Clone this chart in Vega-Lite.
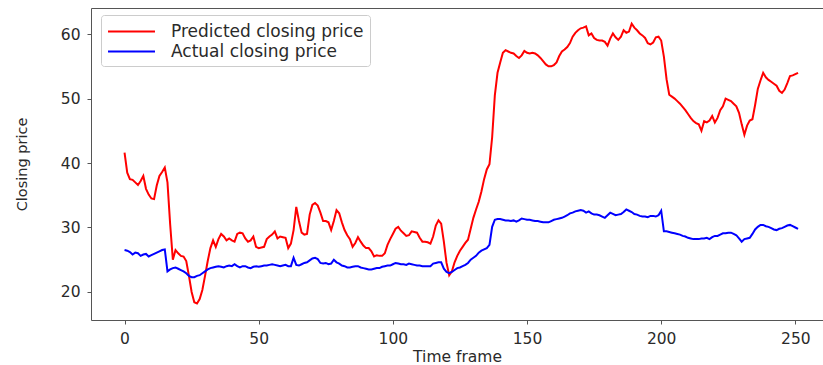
{
  "$schema": "https://vega.github.io/schema/vega-lite/v6.json",
  "width": 732,
  "height": 312,
  "autosize": {"type": "none"},
  "padding": {"left": 91, "top": 8, "right": 0, "bottom": 45},
  "background": "white",
  "data": {
    "values": [
      {"t":0,"Predicted":41.6,"Actual":26.5},{"t":1,"Predicted":38.5,"Actual":26.4},{"t":2,"Predicted":37.5,"Actual":26.2},{"t":3,"Predicted":37.4,"Actual":25.8},{"t":4,"Predicted":37.0,"Actual":26.1},
      {"t":5,"Predicted":36.6,"Actual":26.0},{"t":6,"Predicted":37.2,"Actual":25.6},{"t":7,"Predicted":38.0,"Actual":25.8},{"t":8,"Predicted":36.0,"Actual":25.9},{"t":9,"Predicted":35.1,"Actual":25.5},
      {"t":10,"Predicted":34.5,"Actual":25.7},{"t":11,"Predicted":34.4,"Actual":25.9},{"t":12,"Predicted":36.5,"Actual":26.1},{"t":13,"Predicted":38.0,"Actual":26.3},{"t":14,"Predicted":38.6,"Actual":26.5},
      {"t":15,"Predicted":39.3,"Actual":26.6},{"t":16,"Predicted":37.0,"Actual":23.2},{"t":17,"Predicted":30.5,"Actual":23.5},{"t":18,"Predicted":25.0,"Actual":23.7},{"t":19,"Predicted":26.5,"Actual":23.8},
      {"t":20,"Predicted":26.0,"Actual":23.6},{"t":21,"Predicted":25.6,"Actual":23.4},{"t":22,"Predicted":25.5,"Actual":23.2},{"t":23,"Predicted":24.8,"Actual":22.9},{"t":24,"Predicted":22.5,"Actual":22.5},
      {"t":25,"Predicted":20.0,"Actual":22.3},{"t":26,"Predicted":18.4,"Actual":22.3},{"t":27,"Predicted":18.2,"Actual":22.5},{"t":28,"Predicted":18.9,"Actual":22.6},{"t":29,"Predicted":20.3,"Actual":22.9},
      {"t":30,"Predicted":22.5,"Actual":23.2},{"t":31,"Predicted":24.8,"Actual":23.5},{"t":32,"Predicted":26.8,"Actual":23.7},{"t":33,"Predicted":28.0,"Actual":23.8},{"t":34,"Predicted":27.0,"Actual":23.9},
      {"t":35,"Predicted":28.2,"Actual":24.0},{"t":36,"Predicted":29.0,"Actual":23.9},{"t":37,"Predicted":28.6,"Actual":23.8},{"t":38,"Predicted":28.0,"Actual":24.0},{"t":39,"Predicted":28.3,"Actual":24.1},
      {"t":40,"Predicted":28.0,"Actual":24.0},{"t":41,"Predicted":27.8,"Actual":24.3},{"t":42,"Predicted":29.0,"Actual":24.0},{"t":43,"Predicted":29.2,"Actual":23.8},{"t":44,"Predicted":29.1,"Actual":24.0},
      {"t":45,"Predicted":28.3,"Actual":24.0},{"t":46,"Predicted":27.8,"Actual":23.8},{"t":47,"Predicted":28.0,"Actual":23.7},{"t":48,"Predicted":28.6,"Actual":23.9},{"t":49,"Predicted":27.0,"Actual":24.0},
      {"t":50,"Predicted":26.8,"Actual":23.9},{"t":51,"Predicted":26.9,"Actual":24.0},{"t":52,"Predicted":27.0,"Actual":24.1},{"t":53,"Predicted":28.2,"Actual":24.1},{"t":54,"Predicted":28.6,"Actual":24.2},
      {"t":55,"Predicted":28.9,"Actual":24.3},{"t":56,"Predicted":29.4,"Actual":24.2},{"t":57,"Predicted":28.3,"Actual":24.1},{"t":58,"Predicted":28.6,"Actual":24.0},{"t":59,"Predicted":28.5,"Actual":24.1},
      {"t":60,"Predicted":28.4,"Actual":24.2},{"t":61,"Predicted":26.8,"Actual":24.0},{"t":62,"Predicted":27.5,"Actual":24.0},{"t":63,"Predicted":29.6,"Actual":25.3},{"t":64,"Predicted":33.2,"Actual":24.2},
      {"t":65,"Predicted":31.0,"Actual":24.1},{"t":66,"Predicted":29.2,"Actual":24.3},{"t":67,"Predicted":28.9,"Actual":24.5},{"t":68,"Predicted":29.0,"Actual":24.6},{"t":69,"Predicted":32.0,"Actual":24.9},
      {"t":70,"Predicted":33.5,"Actual":25.2},{"t":71,"Predicted":33.8,"Actual":25.3},{"t":72,"Predicted":33.4,"Actual":25.1},{"t":73,"Predicted":32.3,"Actual":24.5},{"t":74,"Predicted":31.0,"Actual":24.4},
      {"t":75,"Predicted":31.0,"Actual":24.5},{"t":76,"Predicted":30.8,"Actual":24.3},{"t":77,"Predicted":29.6,"Actual":24.4},{"t":78,"Predicted":31.0,"Actual":25.0},{"t":79,"Predicted":32.7,"Actual":24.6},
      {"t":80,"Predicted":32.2,"Actual":24.4},{"t":81,"Predicted":30.8,"Actual":24.1},{"t":82,"Predicted":29.6,"Actual":24.0},{"t":83,"Predicted":28.8,"Actual":23.8},{"t":84,"Predicted":28.2,"Actual":23.8},
      {"t":85,"Predicted":27.0,"Actual":23.9},{"t":86,"Predicted":27.6,"Actual":24.0},{"t":87,"Predicted":28.5,"Actual":24.0},{"t":88,"Predicted":27.8,"Actual":23.8},{"t":89,"Predicted":27.2,"Actual":23.7},
      {"t":90,"Predicted":26.8,"Actual":23.6},{"t":91,"Predicted":26.8,"Actual":23.5},{"t":92,"Predicted":26.3,"Actual":23.5},{"t":93,"Predicted":25.5,"Actual":23.6},{"t":94,"Predicted":25.7,"Actual":23.7},
      {"t":95,"Predicted":25.6,"Actual":23.7},{"t":96,"Predicted":25.6,"Actual":23.9},{"t":97,"Predicted":26.0,"Actual":24.0},{"t":98,"Predicted":27.3,"Actual":24.1},{"t":99,"Predicted":28.2,"Actual":24.1},
      {"t":100,"Predicted":29.0,"Actual":24.3},{"t":101,"Predicted":29.8,"Actual":24.5},{"t":102,"Predicted":30.1,"Actual":24.4},{"t":103,"Predicted":29.5,"Actual":24.3},{"t":104,"Predicted":29.1,"Actual":24.3},
      {"t":105,"Predicted":28.7,"Actual":24.2},{"t":106,"Predicted":28.8,"Actual":24.4},{"t":107,"Predicted":29.4,"Actual":24.3},{"t":108,"Predicted":29.3,"Actual":24.2},{"t":109,"Predicted":29.2,"Actual":24.1},
      {"t":110,"Predicted":28.4,"Actual":24.1},{"t":111,"Predicted":27.8,"Actual":24.0},{"t":112,"Predicted":27.8,"Actual":24.0},{"t":113,"Predicted":27.7,"Actual":24.0},{"t":114,"Predicted":27.5,"Actual":24.0},
      {"t":115,"Predicted":28.6,"Actual":24.4},{"t":116,"Predicted":30.3,"Actual":24.5},{"t":117,"Predicted":31.1,"Actual":24.6},{"t":118,"Predicted":30.6,"Actual":24.6},{"t":119,"Predicted":27.8,"Actual":23.6},
      {"t":120,"Predicted":24.5,"Actual":23.1},{"t":121,"Predicted":22.6,"Actual":22.9},{"t":122,"Predicted":23.2,"Actual":23.1},{"t":123,"Predicted":24.6,"Actual":23.4},{"t":124,"Predicted":25.6,"Actual":23.7},
      {"t":125,"Predicted":26.4,"Actual":23.8},{"t":126,"Predicted":27.0,"Actual":24.0},{"t":127,"Predicted":27.6,"Actual":24.2},{"t":128,"Predicted":28.1,"Actual":24.5},{"t":129,"Predicted":29.8,"Actual":25.0},
      {"t":130,"Predicted":31.5,"Actual":25.3},{"t":131,"Predicted":32.8,"Actual":25.6},{"t":132,"Predicted":34.0,"Actual":26.1},{"t":133,"Predicted":35.6,"Actual":26.4},{"t":134,"Predicted":37.5,"Actual":26.6},
      {"t":135,"Predicted":39.0,"Actual":26.8},{"t":136,"Predicted":39.8,"Actual":27.3},{"t":137,"Predicted":44.0,"Actual":30.1},{"t":138,"Predicted":50.5,"Actual":31.2},{"t":139,"Predicted":54.0,"Actual":31.3},
      {"t":140,"Predicted":55.6,"Actual":31.3},{"t":141,"Predicted":57.1,"Actual":31.2},{"t":142,"Predicted":57.5,"Actual":31.1},{"t":143,"Predicted":57.3,"Actual":31.1},{"t":144,"Predicted":57.1,"Actual":31.0},
      {"t":145,"Predicted":57.0,"Actual":31.1},{"t":146,"Predicted":56.6,"Actual":30.9},{"t":147,"Predicted":56.3,"Actual":31.1},{"t":148,"Predicted":56.7,"Actual":31.4},{"t":149,"Predicted":57.4,"Actual":31.3},
      {"t":150,"Predicted":57.1,"Actual":31.2},{"t":151,"Predicted":57.0,"Actual":31.2},{"t":152,"Predicted":57.1,"Actual":31.1},{"t":153,"Predicted":57.0,"Actual":31.0},{"t":154,"Predicted":56.7,"Actual":31.0},
      {"t":155,"Predicted":56.3,"Actual":30.9},{"t":156,"Predicted":55.8,"Actual":30.8},{"t":157,"Predicted":55.3,"Actual":30.8},{"t":158,"Predicted":55.0,"Actual":30.8},{"t":159,"Predicted":55.0,"Actual":31.0},
      {"t":160,"Predicted":55.2,"Actual":31.2},{"t":161,"Predicted":55.6,"Actual":31.3},{"t":162,"Predicted":56.6,"Actual":31.4},{"t":163,"Predicted":57.3,"Actual":31.5},{"t":164,"Predicted":57.6,"Actual":31.7},
      {"t":165,"Predicted":58.0,"Actual":31.9},{"t":166,"Predicted":58.6,"Actual":32.2},{"t":167,"Predicted":59.6,"Actual":32.3},{"t":168,"Predicted":60.2,"Actual":32.5},{"t":169,"Predicted":60.6,"Actual":32.6},
      {"t":170,"Predicted":60.9,"Actual":32.7},{"t":171,"Predicted":61.0,"Actual":32.6},{"t":172,"Predicted":61.2,"Actual":32.3},{"t":173,"Predicted":59.8,"Actual":32.5},{"t":174,"Predicted":60.1,"Actual":32.2},
      {"t":175,"Predicted":59.4,"Actual":32.0},{"t":176,"Predicted":59.1,"Actual":32.0},{"t":177,"Predicted":59.0,"Actual":31.9},{"t":178,"Predicted":59.0,"Actual":31.7},{"t":179,"Predicted":58.8,"Actual":31.5},
      {"t":180,"Predicted":58.2,"Actual":31.9},{"t":181,"Predicted":59.3,"Actual":32.3},{"t":182,"Predicted":60.1,"Actual":32.1},{"t":183,"Predicted":59.5,"Actual":31.9},{"t":184,"Predicted":59.1,"Actual":32.0},
      {"t":185,"Predicted":59.6,"Actual":32.1},{"t":186,"Predicted":60.6,"Actual":32.4},{"t":187,"Predicted":60.2,"Actual":32.8},{"t":188,"Predicted":60.4,"Actual":32.6},{"t":189,"Predicted":61.6,"Actual":32.4},
      {"t":190,"Predicted":61.0,"Actual":32.1},{"t":191,"Predicted":60.6,"Actual":32.0},{"t":192,"Predicted":60.1,"Actual":31.8},{"t":193,"Predicted":59.8,"Actual":31.7},{"t":194,"Predicted":59.4,"Actual":31.7},
      {"t":195,"Predicted":58.6,"Actual":31.6},{"t":196,"Predicted":58.4,"Actual":31.8},{"t":197,"Predicted":58.7,"Actual":31.8},{"t":198,"Predicted":59.5,"Actual":31.7},{"t":199,"Predicted":59.6,"Actual":31.9},
      {"t":200,"Predicted":59.0,"Actual":32.6},{"t":201,"Predicted":56.5,"Actual":29.4},{"t":202,"Predicted":53.0,"Actual":29.4},{"t":203,"Predicted":50.6,"Actual":29.3},{"t":204,"Predicted":50.3,"Actual":29.2},
      {"t":205,"Predicted":50.0,"Actual":29.1},{"t":206,"Predicted":49.6,"Actual":29.0},{"t":207,"Predicted":49.2,"Actual":28.9},{"t":208,"Predicted":48.7,"Actual":28.7},{"t":209,"Predicted":48.2,"Actual":28.6},
      {"t":210,"Predicted":47.6,"Actual":28.4},{"t":211,"Predicted":47.0,"Actual":28.3},{"t":212,"Predicted":46.5,"Actual":28.2},{"t":213,"Predicted":46.2,"Actual":28.2},{"t":214,"Predicted":46.0,"Actual":28.2},
      {"t":215,"Predicted":45.0,"Actual":28.3},{"t":216,"Predicted":46.5,"Actual":28.3},{"t":217,"Predicted":46.3,"Actual":28.4},{"t":218,"Predicted":46.6,"Actual":28.2},{"t":219,"Predicted":47.3,"Actual":28.5},
      {"t":220,"Predicted":46.3,"Actual":28.7},{"t":221,"Predicted":47.0,"Actual":28.7},{"t":222,"Predicted":48.2,"Actual":28.9},{"t":223,"Predicted":48.8,"Actual":29.1},{"t":224,"Predicted":50.0,"Actual":29.1},
      {"t":225,"Predicted":49.8,"Actual":29.2},{"t":226,"Predicted":49.6,"Actual":29.2},{"t":227,"Predicted":49.2,"Actual":29.0},{"t":228,"Predicted":48.8,"Actual":28.8},{"t":229,"Predicted":47.8,"Actual":28.3},
      {"t":230,"Predicted":46.0,"Actual":27.8},{"t":231,"Predicted":44.4,"Actual":28.2},{"t":232,"Predicted":45.8,"Actual":28.3},{"t":233,"Predicted":46.6,"Actual":28.4},{"t":234,"Predicted":46.8,"Actual":29.0},
      {"t":235,"Predicted":49.0,"Actual":29.7},{"t":236,"Predicted":51.5,"Actual":30.1},{"t":237,"Predicted":52.8,"Actual":30.4},{"t":238,"Predicted":54.0,"Actual":30.4},{"t":239,"Predicted":53.3,"Actual":30.2},
      {"t":240,"Predicted":52.9,"Actual":30.1},{"t":241,"Predicted":52.6,"Actual":29.9},{"t":242,"Predicted":52.3,"Actual":29.7},{"t":243,"Predicted":52.0,"Actual":29.6},{"t":244,"Predicted":51.2,"Actual":29.8},
      {"t":245,"Predicted":50.9,"Actual":29.9},{"t":246,"Predicted":51.4,"Actual":30.1},{"t":247,"Predicted":52.4,"Actual":30.3},{"t":248,"Predicted":53.5,"Actual":30.4},{"t":249,"Predicted":53.6,"Actual":30.2},
      {"t":250,"Predicted":53.8,"Actual":30.0},{"t":251,"Predicted":54.0,"Actual":29.8}
    ]
  },
  "transform": [
    {"fold": ["Predicted", "Actual"], "as": ["series", "price"]}
  ],
  "mark": {"type": "line", "strokeWidth": 2, "clip": true},
  "encoding": {
    "x": {
      "field": "t",
      "type": "quantitative",
      "scale": {"domain": [-12.5, 260.3], "nice": false, "zero": false},
      "axis": {"values": [0, 50, 100, 150, 200, 250], "title": "Time frame"}
    },
    "y": {
      "field": "price",
      "type": "quantitative",
      "scale": {"domain": [15.65, 64.05], "nice": false, "zero": false},
      "axis": {"values": [20, 30, 40, 50, 60], "title": "Closing price"}
    },
    "color": {
      "field": "series",
      "type": "nominal",
      "sort": ["Predicted", "Actual"],
      "scale": {"domain": ["Predicted", "Actual"], "range": ["#ff0000", "#0000ff"]},
      "legend": {
        "title": null,
        "orient": "none",
        "legendX": 10,
        "legendY": 7,
        "labelExpr": "datum.label + ' closing price'"
      }
    }
  },
  "config": {
    "font": "DejaVu Sans",
    "view": {"stroke": "#555555", "strokeWidth": 1},
    "axis": {
      "domain": false,
      "grid": false,
      "ticks": true,
      "tickColor": "#555555",
      "tickSize": 4,
      "labelFont": "DejaVu Sans",
      "labelFontSize": 15.5,
      "labelColor": "#2a2a2a",
      "labelPadding": 7,
      "titleFont": "DejaVu Sans",
      "titleFontSize": 15.5,
      "titleFontWeight": "normal",
      "titleColor": "#2a2a2a"
    },
    "axisX": {"titlePadding": 3},
    "axisY": {"titlePadding": 31, "titleFontSize": 14.5},
    "legend": {
      "symbolType": "M-2.5,0H2.5",
      "symbolSize": 353,
      "symbolStrokeWidth": 2,
      "symbolOffset": 14,
      "labelOffset": 29,
      "labelFont": "DejaVu Sans",
      "labelFontSize": 17,
      "labelColor": "#2a2a2a",
      "padding": 6,
      "rowPadding": 1,
      "fillColor": "white",
      "strokeColor": "#cccccc",
      "cornerRadius": 3,
      "labelLimit": 400
    }
  }
}
